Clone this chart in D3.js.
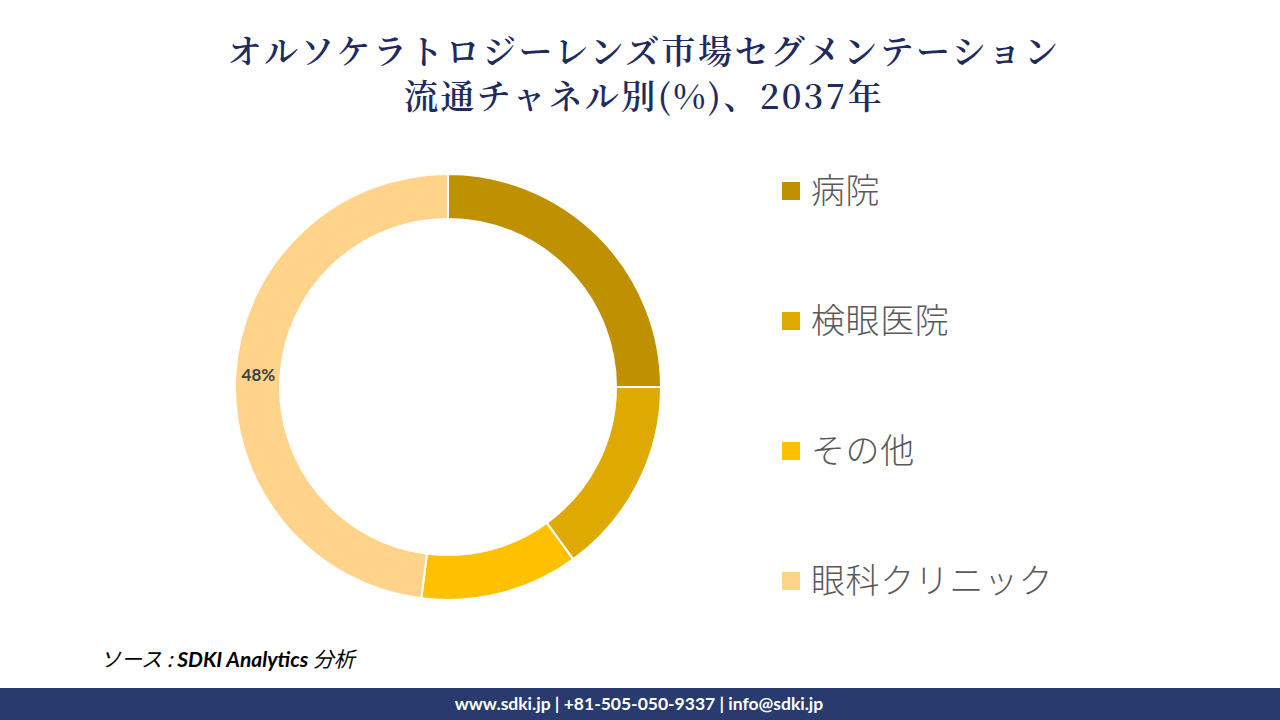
<!DOCTYPE html>
<html>
<head>
<meta charset="utf-8">
<script src="https://cdn.jsdelivr.net/npm/d3@7"></script>
<style>
  body { margin: 0; background: #fff; }
  svg { display: block; }
</style>
</head>
<body>
<div id="chart"></div>
<script>
// data
const categories = ['病院', '検眼医院', 'その他', '眼科クリニック']
const shares = [25, 15, 12, 48]
const colors = ['#bf9000', '#dea900', '#ffc000', '#ffd38a']
const shownLabels = ['眼科クリニック']
const titleLines = ['オルソケラトロジーレンズ市場セグメンテーション', '流通チャネル別(%)、2037年']

const width = 1280
const height = 720

const svg = d3.select('#chart')
  .append('svg')
  .attr('width', width)
  .attr('height', height)

// title
svg.append('g')
  .selectAll('text')
  .data(titleLines)
  .enter()
  .append('text')
  .attr('x', 644)
  .attr('y', (d, i) => 64 + i * 45)
  .attr('text-anchor', 'middle')
  .style('font-family', '"Noto Serif CJK JP", "Noto Sans CJK JP", serif')
  .style('font-size', '34px')
  .style('font-weight', 600)
  .style('letter-spacing', '2.4px')
  .style('fill', '#1f2b5e')
  .text(d => d)

// donut
const outerR = 213
const innerR = 168
const pie = d3.pie().sort(null).value(d => d)
const arc = d3.arc().innerRadius(innerR).outerRadius(outerR)
const labelArc = d3.arc().innerRadius(190).outerRadius(190)

const donut = svg.append('g')
  .attr('transform', 'translate(448,387)')

const arcs = pie(shares)

donut.selectAll('path')
  .data(arcs)
  .enter()
  .append('path')
  .attr('d', arc)
  .style('fill', (d, i) => colors[i])
  .style('stroke', '#fff')
  .style('stroke-width', 2)

donut.selectAll('text')
  .data(arcs.filter((d, i) => shownLabels.includes(categories[i])))
  .enter()
  .append('text')
  .attr('transform', d => `translate(${labelArc.centroid(d)})`)
  .attr('text-anchor', 'middle')
  .attr('dy', '0.35em')
  .style('font-family', 'Lato, "Open Sans", sans-serif')
  .style('font-weight', 'bold')
  .style('font-size', '17px')
  .style('fill', '#404040')
  .text(d => d.data + '%')

// legend
const legendY = d3.scalePoint()
  .domain(categories)
  .range([191, 581])

const legend = svg.append('g')
  .selectAll('g')
  .data(categories)
  .enter()
  .append('g')
  .attr('transform', d => `translate(782,${legendY(d)})`)

legend.append('rect')
  .attr('x', 0)
  .attr('y', -9)
  .attr('width', 18)
  .attr('height', 18)
  .style('fill', (d, i) => colors[i])

legend.append('text')
  .attr('x', 29)
  .attr('y', 12)
  .style('font-family', '"Noto Sans CJK JP", sans-serif')
  .style('font-weight', 300)
  .style('font-size', '34px')
  .style('letter-spacing', '0.6px')
  .style('fill', '#595959')
  .text(d => d)

// source
svg.append('text')
  .attr('x', 100)
  .attr('y', 667)
  .style('font-family', '"Noto Sans CJK JP", sans-serif')
  .style('font-style', 'italic')
  .style('font-size', '21px')
  .style('fill', '#000')
  .text('ソース : ')
  .append('tspan')
  .style('font-family', 'Lato, sans-serif')
  .style('font-weight', 'bold')
  .text('SDKI Analytics ')
  .append('tspan')
  .style('font-family', '"Noto Sans CJK JP", sans-serif')
  .style('font-weight', 'normal')
  .text('分析')

// footer
svg.append('rect')
  .attr('x', 0)
  .attr('y', 688)
  .attr('width', width)
  .attr('height', 32)
  .style('fill', '#283a6e')

svg.append('text')
  .attr('x', 639)
  .attr('y', 710)
  .attr('text-anchor', 'middle')
  .style('font-family', 'Lato, "Open Sans", sans-serif')
  .style('font-weight', 'bold')
  .style('font-size', '17.5px')
  .style('fill', '#fff')
  .text('www.sdki.jp | +81-505-050-9337 | info@sdki.jp')
</script>
</body>
</html>
